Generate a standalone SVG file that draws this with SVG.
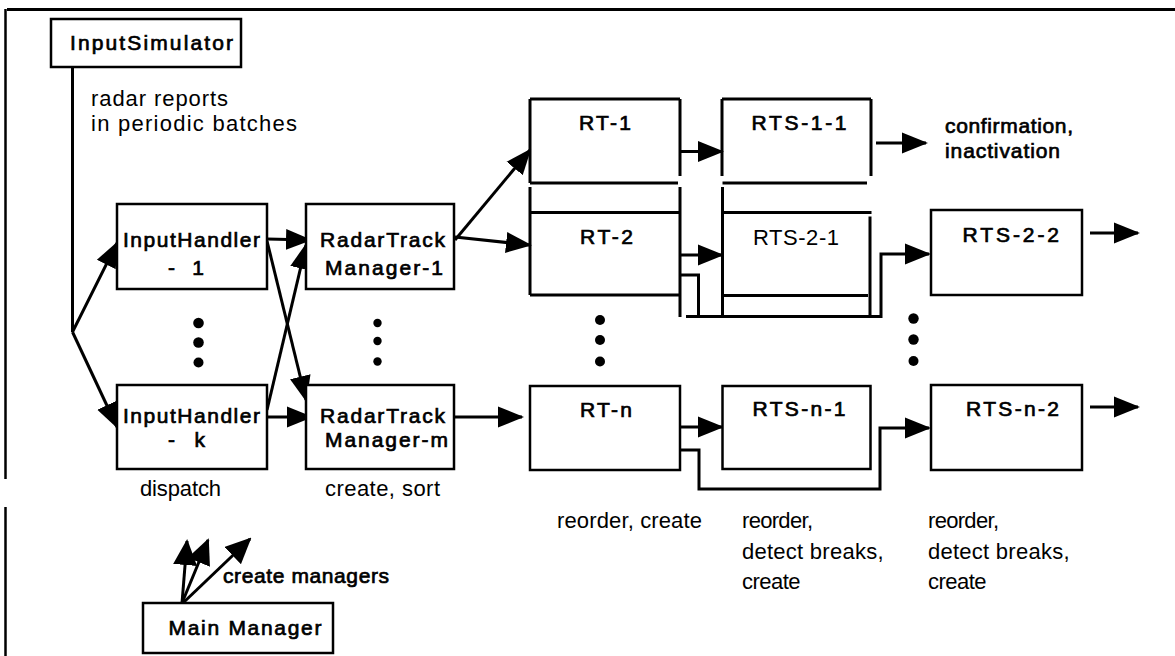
<svg xmlns="http://www.w3.org/2000/svg" width="1175" height="656" viewBox="0 0 1175 656">
  <defs>
    <marker id="ah" markerUnits="userSpaceOnUse" markerWidth="26" markerHeight="22" viewBox="0 0 26 22" refX="24" refY="11" orient="auto">
      <path d="M0,0.5 L26,11 L0,21.5 z" fill="#000"/>
    </marker>
    <marker id="ahBig" markerUnits="userSpaceOnUse" markerWidth="26" markerHeight="24" viewBox="0 0 26 24" refX="24" refY="12" orient="auto">
      <path d="M0,0 L26,12 L0,24 z" fill="#000"/>
    </marker>
    <style>
      .box { fill: #fff; stroke: #000; stroke-width: 2.5; }
      .edge { fill: none; stroke: #000; stroke-width: 3; stroke-linejoin: miter; }
      .rule { fill: none; stroke: #000; stroke-width: 3; }
      .arr { marker-end: url(#ah); }
      .lbl { font-family: "Liberation Sans", Arial, sans-serif; font-size: 21px; fill: #000; stroke: #000; stroke-width: 0.7; }
      .note { font-family: "Liberation Sans", Arial, sans-serif; font-size: 22px; fill: #000; }
      .dot { fill: #000; }
    </style>
  </defs>

  <rect width="1175" height="656" fill="#fff"/>

  <!-- page frame -->
  <g id="frame">
    <line class="rule" x1="7" y1="9.5" x2="1175" y2="9.5"/>
    <line x1="5.5" y1="9" x2="5.5" y2="479" stroke="#000" stroke-width="2.5"/>
    <line x1="5.5" y1="507" x2="5.5" y2="656" stroke="#000" stroke-width="2.5"/>
  </g>

  <!-- connectors -->
  <g id="connectors">
    <path class="edge" d="M72.5,67 V332"/>
    <path class="edge arr" d="M72.5,332 L117,243"/>
    <path class="edge arr" d="M72.5,332 L117,427"/>
    <path class="edge arr" d="M267,239 L310,240"/>
    <path class="edge arr" d="M267,241 L306,400"/>
    <path class="edge arr" d="M267,410 L306,245"/>
    <path class="edge arr" d="M267,417 L311,417"/>
    <path class="edge arr" d="M455,240 L530,150"/>
    <path class="edge arr" d="M455,237 L530,245"/>
    <path class="edge arr" d="M455,417 L522,417"/>
    <path class="edge arr" d="M680,151.5 L722,151.5"/>
    <path class="edge arr" d="M876,143 L926,143"/>
    <path class="edge arr" d="M681,255 L722,255"/>
    <path class="edge arr" d="M681,275 H698.5 V316.5 H881 V254 H929"/>
    <path class="edge arr" d="M1090,233 L1138,233"/>
    <path class="edge arr" d="M681,427 L722,427"/>
    <path class="edge arr" d="M681,450 H699 V489 H880 V428 H929"/>
    <path class="edge arr" d="M1090,407 L1138,407"/>
    <path class="edge" d="M686,316.5 H699"/>
    <path class="edge" d="M182,603 L187,541" marker-end="url(#ahBig)"/>
    <path class="edge" d="M182,603 L208,540" marker-end="url(#ahBig)"/>
    <path class="edge" d="M184,602 L250,539" marker-end="url(#ahBig)"/>
  </g>

  <g id="input-simulator">
    <rect class="box" x="51" y="19" width="190" height="48"/>
    <text class="lbl" x="70" y="50" textLength="163">InputSimulator</text>
  </g>
  <text class="note" x="91" y="106" textLength="137">radar reports</text>
  <text class="note" x="91" y="131" textLength="206">in periodic batches</text>

  <g id="input-handler-1">
    <rect class="box" x="117" y="204" width="150" height="85"/>
    <text class="lbl" x="123" y="247" textLength="137">InputHandler</text>
    <text class="lbl" x="168" y="274.5" textLength="36">- 1</text>
  </g>
  <g id="input-handler-k">
    <rect class="box" x="117" y="385" width="150" height="84"/>
    <text class="lbl" x="123" y="423" textLength="137">InputHandler</text>
    <text class="lbl" x="168" y="447" textLength="37">- k</text>
  </g>
  <g id="handler-dots">
    <circle class="dot" cx="198.5" cy="323" r="5.3"/>
    <circle class="dot" cx="198.5" cy="342.5" r="5.3"/>
    <circle class="dot" cx="198.5" cy="362.5" r="5"/>
  </g>
  <text class="note" x="140" y="496" textLength="81">dispatch</text>

  <g id="radar-track-manager-1">
    <rect class="box" x="306" y="204" width="148" height="85"/>
    <text class="lbl" x="320" y="247" textLength="125">RadarTrack</text>
    <text class="lbl" x="325" y="275" textLength="118">Manager-1</text>
  </g>
  <g id="radar-track-manager-m">
    <rect class="box" x="306" y="385" width="148" height="84"/>
    <text class="lbl" x="320" y="423" textLength="125">RadarTrack</text>
    <text class="lbl" x="325" y="447" textLength="123">Manager-m</text>
  </g>
  <g id="manager-dots">
    <circle class="dot" cx="377.5" cy="323" r="4.2"/>
    <circle class="dot" cx="377.5" cy="341" r="4.2"/>
    <circle class="dot" cx="377.5" cy="361.5" r="4.2"/>
  </g>
  <text class="note" x="325" y="496" textLength="115">create, sort</text>

  <g id="rt-1">
    <path class="edge" d="M530,99 H680 M530,99 V183 M680,99 V176 M530,183 H678"/>
    <text class="lbl" x="579" y="130" textLength="52">RT-1</text>
  </g>
  <g id="rt-2">
    <path class="edge" d="M530,212.5 H679 M530,187 V295 M680,187 V317 M530,295 H679"/>
    <text class="lbl" x="580" y="243.5" textLength="53">RT-2</text>
  </g>
  <g id="rt-dots">
    <circle class="dot" cx="600" cy="320" r="5"/>
    <circle class="dot" cx="600" cy="340" r="5"/>
    <circle class="dot" cx="600" cy="361.5" r="5"/>
  </g>
  <g id="rt-n">
    <rect class="box" x="530" y="386" width="150" height="84"/>
    <text class="lbl" x="580" y="416.5" textLength="52">RT-n</text>
  </g>

  <g id="rts-1-1">
    <path class="edge" d="M722,99 H871 M722,99 V176 M871,99 V176 M722.5,183 H867"/>
    <text class="lbl" x="751.5" y="130" textLength="95">RTS-1-1</text>
  </g>
  <text class="lbl" x="945" y="133" textLength="128">confirmation,</text>
  <text class="lbl" x="945" y="158" textLength="115">inactivation</text>

  <g id="rts-2-1">
    <path class="edge" d="M722.5,212.5 H871.5 M722.5,187 V316 M870,216.5 V316 M722.5,295.5 H868"/>
    <text class="note" x="753" y="244.5" textLength="86">RTS-2-1</text>
  </g>
  <g id="rts-n-1">
    <rect class="box" x="722.5" y="386" width="148" height="83"/>
    <text class="lbl" x="752.5" y="416" textLength="93">RTS-n-1</text>
  </g>

  <g id="rts-2-2">
    <rect class="box" x="931" y="210" width="151" height="85"/>
    <text class="lbl" x="962.5" y="241.5" textLength="96.5">RTS-2-2</text>
  </g>
  <g id="rts-dots">
    <circle class="dot" cx="913.5" cy="318.5" r="5.2"/>
    <circle class="dot" cx="913.5" cy="339.5" r="5.2"/>
    <circle class="dot" cx="913.5" cy="361" r="5"/>
  </g>
  <g id="rts-n-2">
    <rect class="box" x="931" y="385" width="151" height="85"/>
    <text class="lbl" x="966" y="416" textLength="93">RTS-n-2</text>
  </g>

  <text class="note" x="557" y="528" textLength="145">reorder, create</text>
  <text class="note" x="742" y="528" textLength="71">reorder,</text>
  <text class="note" x="742" y="558.5" textLength="141.5">detect breaks,</text>
  <text class="note" x="742" y="589" textLength="58.5">create</text>
  <text class="note" x="928" y="528" textLength="71">reorder,</text>
  <text class="note" x="928" y="558.5" textLength="141.5">detect breaks,</text>
  <text class="note" x="928" y="589" textLength="58.5">create</text>

  <g id="main-manager">
    <rect class="box" x="143" y="603" width="190" height="50"/>
    <text class="lbl" x="168.5" y="635" textLength="153">Main Manager</text>
  </g>
  <text class="lbl" x="223" y="583" textLength="166">create managers</text>
</svg>
